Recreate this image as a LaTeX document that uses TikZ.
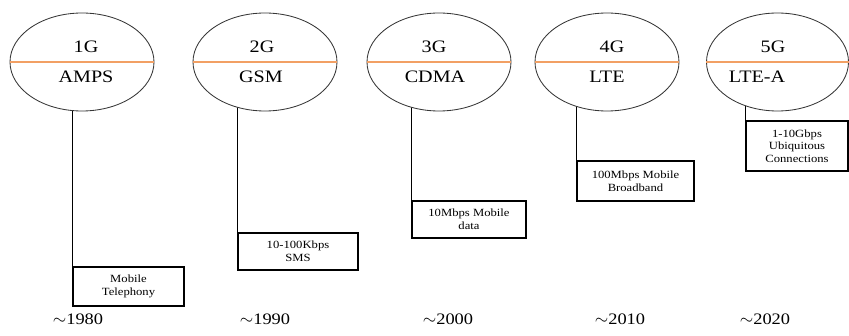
\documentclass[tikz,border=0pt]{standalone}
\usepackage{fontspec}
\setmainfont{Liberation Serif}[FakeStretch=1.15]
\usetikzlibrary{shapes.geometric,backgrounds}
\definecolor{sepor}{RGB}{242,160,100}
\definecolor{edgegray}{RGB}{55,55,55}
\begin{document}
\begin{tikzpicture}[x=1pt,y=-1pt,
  gen/.style={ellipse, draw=edgegray, line width=0.85pt, fill=white, minimum width=144pt, minimum height=98pt, inner sep=0pt},
  gtxt/.style={anchor=base, font=\fontsize{17.5}{19}\selectfont, inner sep=0pt},
  info/.style={draw=black, line width=1.1pt, fill=white, align=center, font=\fontsize{11}{12.7}\selectfont, inner sep=0pt},
  yeartxt/.style={anchor=base, font=\fontsize{16}{18}\selectfont, inner sep=0pt},
  link/.style={draw=black, line width=0.8pt},
  sepline/.style={color=sepor, line width=1.2pt}]
\useasboundingbox (0,0) rectangle (849,336);

% generation ellipses
\node[gen] (e1) at (82,62) {};
\node[gen] (e2) at (265,62) {};
\node[gen] (e3) at (439,62) {};
\node[gen] (e4) at (607,62) {};
\node[gen, minimum width=142pt] (e5) at (777.5,62) {};

\draw[sepline] (e1.west) -- (e1.east);
\draw[sepline] (e2.west) -- (e2.east);
\draw[sepline] (e3.west) -- (e3.east);
\draw[sepline] (e4.west) -- (e4.east);
\draw[sepline] (e5.west) -- (e5.east);

\node[gtxt] (g1) at (86,52.5) {1G};
\node[gtxt] (n1) at (86,83) {AMPS};
\node[gtxt] (g2) at (262,52.5) {2G};
\node[gtxt] (n2) at (261,83) {GSM};
\node[gtxt] (g3) at (434,52.5) {3G};
\node[gtxt] (n3) at (435,83) {CDMA};
\node[gtxt] (g4) at (612,52.5) {4G};
\node[gtxt] (n4) at (607,83) {LTE};
\node[gtxt] (g5) at (773,52.5) {5G};
\node[gtxt] (n5) at (757,83) {LTE-A};

% info boxes
\node[info, minimum width=111pt, minimum height=39pt] (b1) at (128.5,286.5) {Mobile\\Telephony};
\node[info, minimum width=120pt, minimum height=37pt] (b2) at (298,251.5) {10-100Kbps\\SMS};
\node[info, minimum width=114pt, minimum height=37pt] (b3) at (469,219.5) {10Mbps Mobile\\data};
\node[info, minimum width=117pt, minimum height=40pt] (b4) at (635.5,181) {100Mbps Mobile\\Broadband};
\node[info, minimum width=102pt, minimum height=50pt] (b5) at (797,146) {1-10Gbps\\Ubiquitous\\Connections};

% connectors (behind the white ellipses)
\begin{pgfonlayer}{background}
\draw[link] (b1.north west) -- (b1.north west |- e1.center);
\draw[link] (b2.north west) -- (b2.north west |- e2.center);
\draw[link] (b3.north west) -- (b3.north west |- e3.center);
\draw[link] (b4.north west) -- (b4.north west |- e4.center);
\draw[link] (b5.north west) -- (b5.north west |- e5.center);
\end{pgfonlayer}

% years
\node[yeartxt] (y1) at (78,325) {$\sim$1980};
\node[yeartxt] (y2) at (265,325) {$\sim$1990};
\node[yeartxt] (y3) at (448,325) {$\sim$2000};
\node[yeartxt] (y4) at (620,325) {$\sim$2010};
\node[yeartxt] (y5) at (765,325) {$\sim$2020};
\end{tikzpicture}
\end{document}
